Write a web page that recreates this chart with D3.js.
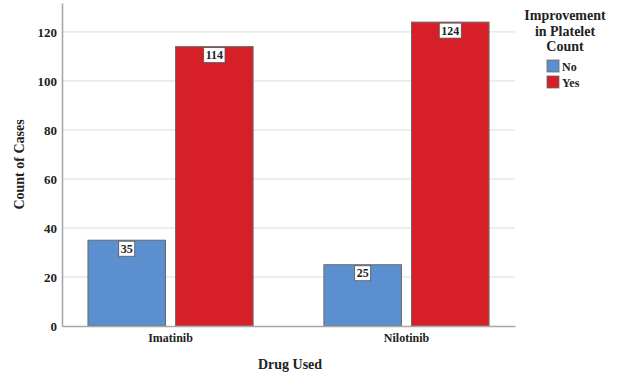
<!DOCTYPE html>
<html>
<head>
<meta charset="utf-8">
<script src="https://cdn.jsdelivr.net/npm/d3@7"></script>
</head>
<body style="margin:0;background:#fff">
<svg id="chart" width="619" height="373" style="display:block"></svg>
<script>
// Drug groups and outcome series
const drugs = ["Imatinib", "Nilotinib"];
const outcomes = ["No", "Yes"];
const countNo = [35, 25];
const countYes = [114, 124];
const yTicks = [0, 20, 40, 60, 80, 100, 120];
const outcomeColors = ["#5b8fd0", "#d71f27"];

const FONT = "Liberation Serif";
const INK = "#222";

const rows = drugs.map((d, i) => ({ drug: d, values: [countNo[i], countYes[i]] }));

const svg = d3.select("#chart");
const plot = { left: 62, right: 515, top: 3, bottom: 326 };

const x0 = d3.scaleBand().domain(drugs).range([plot.left, plot.right])
  .paddingInner(0.30).paddingOuter(0.11);
const x1 = d3.scaleBand().domain(outcomes).range([0, x0.bandwidth()])
  .paddingInner(0.115).paddingOuter(0);
const y = d3.scaleLinear().domain([0, 131.8]).range([plot.bottom, plot.top]);
const color = d3.scaleOrdinal().domain(outcomes).range(outcomeColors);

function styleText(sel, size) {
  sel.attr("font-family", FONT).attr("font-weight", "bold")
    .attr("font-size", size).attr("fill", INK);
}

// Horizontal gridlines
svg.append("g")
  .selectAll("line")
  .data(yTicks.filter(t => t > 0))
  .join("line")
  .attr("x1", plot.left).attr("x2", plot.right)
  .attr("y1", d => y(d)).attr("y2", d => y(d))
  .attr("stroke", "#dcdcdc").attr("stroke-width", 1);

// Y axis
const yAxis = svg.append("g")
  .attr("transform", `translate(${plot.left},0)`)
  .call(d3.axisLeft(y).tickValues(yTicks).tickSize(0).tickPadding(5));
yAxis.select(".domain").attr("stroke", "#a8a8a8").attr("stroke-width", 1.6);
yAxis.selectAll("text").call(styleText, 13);

// Bars
const groups = svg.append("g")
  .selectAll("g")
  .data(rows)
  .join("g")
  .attr("transform", d => `translate(${x0(d.drug)},0)`);

groups.selectAll("rect")
  .data(d => outcomes.map((o, j) => ({ key: o, value: d.values[j] })))
  .join("rect")
  .attr("x", d => x1(d.key))
  .attr("width", x1.bandwidth())
  .attr("y", d => y(d.value))
  .attr("height", d => y(0) - y(d.value))
  .attr("fill", d => color(d.key))
  .attr("stroke", "#6a6a6a")
  .attr("stroke-width", 1);

// Value labels in boxes at bar tops
const labels = groups.selectAll("g.lbl")
  .data(d => outcomes.map((o, j) => ({ key: o, value: d.values[j] })))
  .join("g")
  .attr("class", "lbl")
  .attr("transform", d => `translate(${x1(d.key) + x1.bandwidth() / 2},${y(d.value)})`);

labels.each(function (d) {
  const g = d3.select(this);
  const t = g.append("text")
    .attr("text-anchor", "middle")
    .attr("y", 12.5)
    .call(styleText, 12)
    .text(d.value);
  const w = t.node().getComputedTextLength() + 4;
  g.insert("rect", "text")
    .attr("x", -w / 2).attr("y", 1)
    .attr("width", w).attr("height", 15)
    .attr("fill", "#fff")
    .attr("stroke", "#555")
    .attr("stroke-width", 0.8);
});

// X axis
const xAxis = svg.append("g")
  .attr("transform", `translate(0,${plot.bottom})`)
  .call(d3.axisBottom(x0).tickSize(0).tickPadding(7));
xAxis.select(".domain").attr("stroke", "#a8a8a8").attr("stroke-width", 1.6);
xAxis.selectAll("text").call(styleText, 12);

// Axis titles
svg.append("text")
  .attr("transform", `translate(24,${(plot.top + plot.bottom) / 2}) rotate(-90)`)
  .attr("text-anchor", "middle")
  .call(styleText, 14)
  .text("Count of Cases");

svg.append("text")
  .attr("x", 290).attr("y", 369)
  .attr("text-anchor", "middle")
  .call(styleText, 14)
  .text("Drug Used");

// Legend
const legend = svg.append("g").attr("transform", "translate(565,0)");
["Improvement", "in Platelet", "Count"].forEach((line, i) => {
  legend.append("text")
    .attr("x", 0).attr("y", 20 + i * 15.5)
    .attr("text-anchor", "middle")
    .call(styleText, 14)
    .text(line);
});
const items = legend.selectAll("g.item")
  .data(outcomes)
  .join("g")
  .attr("class", "item")
  .attr("transform", (d, i) => `translate(-18,${60 + i * 16})`);
items.append("rect")
  .attr("width", 12).attr("height", 12)
  .attr("fill", d => color(d))
  .attr("stroke", "#6a6a6a").attr("stroke-width", 0.8);
items.append("text")
  .attr("x", 15).attr("y", 10.5)
  .call(styleText, 12)
  .text(d => d);
</script>
</body>
</html>
